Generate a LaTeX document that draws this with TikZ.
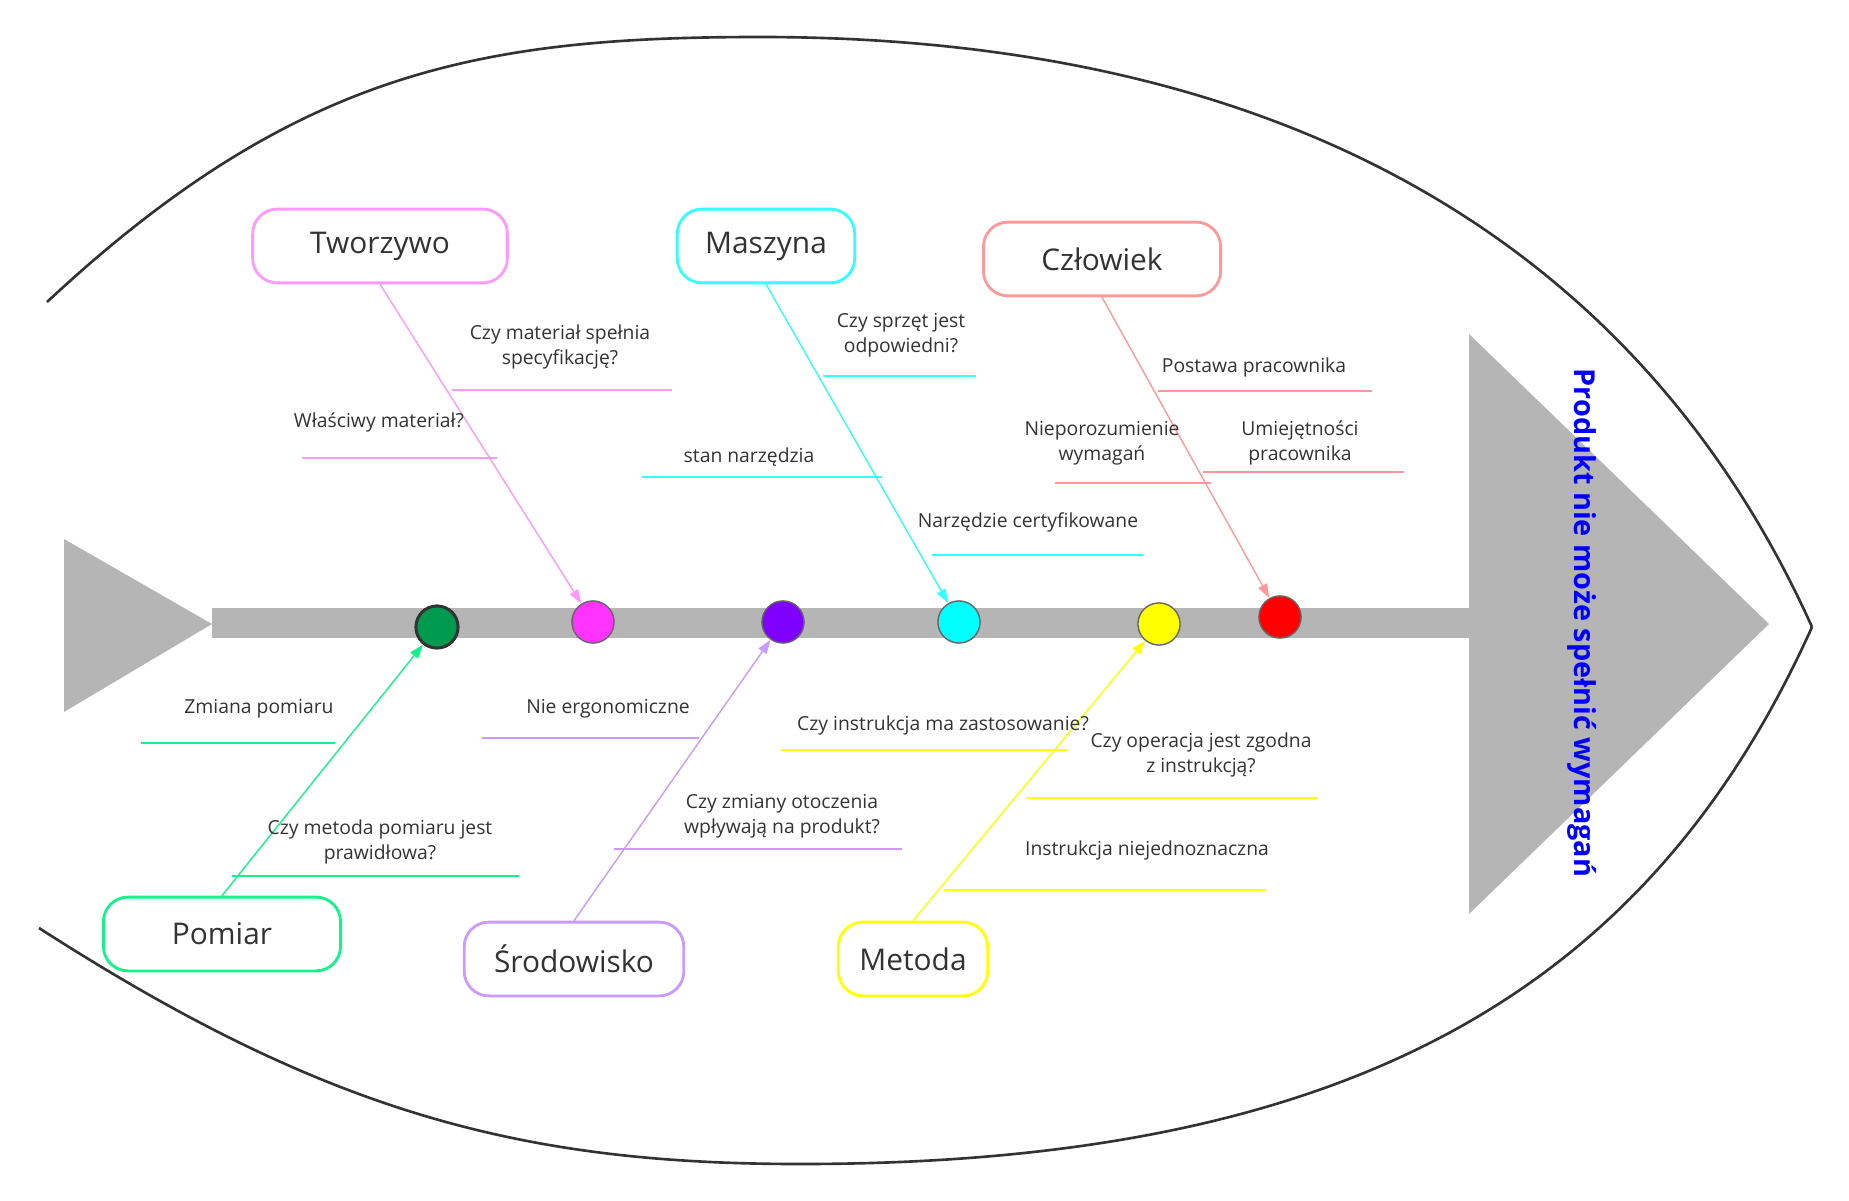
\documentclass[tikz,border=0pt]{standalone}
\usepackage{fontspec}
\setmainfont{Open Sans}
\usepackage{xcolor}
\usetikzlibrary{arrows.meta, positioning}

\definecolor{txt}{HTML}{333333}
\definecolor{spine}{HTML}{B5B5B5}
\definecolor{outline}{HTML}{333333}
\definecolor{cPink}{HTML}{FF99FF}
\definecolor{cCyan}{HTML}{33FFFF}
\definecolor{cSalmon}{HTML}{FF9999}
\definecolor{cGreen}{HTML}{14F28A}
\definecolor{cLav}{HTML}{CC99FF}
\definecolor{cYellow}{HTML}{FFFF00}
\definecolor{dGreen}{HTML}{009A4E}
\definecolor{dMag}{HTML}{FF33FF}
\definecolor{dPur}{HTML}{8000FF}
\definecolor{dCyan}{HTML}{00FFFF}
\definecolor{dYel}{HTML}{FFFF00}
\definecolor{dRed}{HTML}{FF0000}

\tikzset{
  %% Category box
  catbox/.style={
    rectangle, rounded corners=14pt,
    draw=#1, fill=white, line width=1.6pt,
    minimum height=42pt, inner sep=0pt,
    text=txt, font=\fontsize{17}{20}\selectfont
  },
  %% Cause text
  cause/.style={
    text=txt, font=\fontsize{11}{14.2}\selectfont,
    align=center, inner sep=0pt
  },
  %% Underline of a cause
  uline/.style={draw=#1, line width=1.6pt},
  %% Bone
  bone/.style={draw=#1, line width=0.8pt,
               -{Triangle[length=8pt,width=5.5pt]}},
  %% Point on the spine
  dot/.style={
    circle, draw=black!60, fill=#1, line width=0.8pt,
    minimum size=24pt, inner sep=0pt
  },
}

\begin{document}
\begin{tikzpicture}[x=0.02cm, y=-0.02cm]

  \useasboundingbox (0,0) rectangle (1849,1200);

  %% Fish body
  \coordinate (tip) at (1812,627);
  \draw[outline, line width=1.5pt]
    (47,302) .. controls (295,71) and (480,37) .. (760,37)
             .. controls (1310,37) and (1648,263) .. (tip);
  \draw[outline, line width=1.5pt]
    (39,928) .. controls (325,1112) and (520,1164) .. (800,1164)
             .. controls (1350,1164) and (1648,991) .. (tip);

  %% Tail, spine and head
  \fill[spine] (64,539) -- (212,624) -- (64,712) -- cycle;
  \fill[spine] (212,608) rectangle (1469,638);
  \fill[spine] (1469,334) -- (1769,624) -- (1469,914) -- cycle;

  \node[rotate=-90, text=blue, font=\fontsize{16.4}{19}\selectfont\bfseries]
       (effect) at (1582,623) {Produkt nie może spełnić wymagań};

  %% Points on the spine
  \node[dot=dGreen, draw=outline, line width=1.7pt] (cg) at (437,627) {};
  \node[dot=dMag] (cm) at (593,622) {};
  \node[dot=dPur] (cp) at (783,622) {};
  \node[dot=dCyan] (cc) at (959,622) {};
  \node[dot=dYel] (cy) at (1159,624) {};
  \node[dot=dRed] (cr) at (1280,617) {};

  %% Categories
  \node[catbox=cPink, minimum width=145pt] (tw) at (380,246) {Tworzywo};
  \node[catbox=cCyan, minimum width=101pt] (ms) at (766,246) {Maszyna};
  \node[catbox=cSalmon, minimum width=135pt] (cz) at (1102,259) {Człowiek};
  \node[catbox=cGreen, minimum width=135pt] (pm) at (222,934) {Pomiar};
  \node[catbox=cLav, minimum width=125pt] (sr) at (574,959) {Środowisko};
  \node[catbox=cYellow, minimum width=85pt] (mt) at (913,959) {Metoda};

  %% Bones
  \foreach \a/\b/\c in {tw.south/cm/cPink, ms.south/cc/cCyan,
                        cz.south/cr/cSalmon, pm.north/cg/cGreen,
                        sr.north/cp/cLav, mt.north/cy/cYellow}
    \draw[bone=\c] (\a) -- (\b);

  %% Underlines
  \foreach \n/\xa/\xb/\y/\c in {t1/452/672/390/cPink, t2/302/497/458/cPink,
      m1/823/976/376/cCyan, m2/642/882/477/cCyan, m3/932/1143/555/cCyan,
      z1/1158/1372/391/cSalmon, z2/1055/1211/483/cSalmon,
      z3/1203/1404/472/cSalmon,
      p1/141/335/743/cGreen, p2/232/519/876/cGreen,
      s1/482/699/738/cLav, s2/614/902/849/cLav,
      e1/781/1067/750/cYellow, e2/1027/1318/798/cYellow,
      e3/944/1265/890/cYellow} {
    \coordinate (\n a) at (\xa,\y);
    \coordinate (\n b) at (\xb,\y);
    \draw[uline=\c] (\n a) -- (\n b);
  }

  %% Causes
  \node[cause] (t1) at (560,347) {Czy materiał spełnia\\specyfikację?};
  \node[cause] (t2) at (379,422) {Właściwy materiał?};
  \node[cause] (m1) at (901,335) {Czy sprzęt jest\\odpowiedni?};
  \node[cause] (m2) at (749,457) {stan narzędzia};
  \node[cause] (m3) at (1028,522) {Narzędzie certyfikowane};
  \node[cause] (z1) at (1254,367) {Postawa pracownika};
  \node[cause] (z2) at (1102,443) {Nieporozumienie\\wymagań};
  \node[cause] (z3) at (1300,443) {Umiejętności\\pracownika};
  \node[cause] (p1) at (259,709) {Zmiana pomiaru};
  \node[cause] (p2) at (380,842) {Czy metoda pomiaru jest\\prawidłowa?};
  \node[cause] (s1) at (608,709) {Nie ergonomiczne};
  \node[cause] (s2) at (782,816) {Czy zmiany otoczenia\\wpływają na produkt?};
  \node[cause] (e1) at (943,725) {Czy instrukcja ma zastosowanie?};
  \node[cause] (e2) at (1201,755) {Czy operacja jest zgodna\\z instrukcją?};
  \node[cause] (e3) at (1147,850) {Instrukcja niejednoznaczna};

\end{tikzpicture}
\end{document}
